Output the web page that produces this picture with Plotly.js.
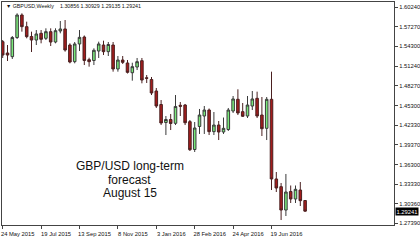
<!DOCTYPE html>
<html>
<head>
<meta charset="utf-8">
<script src="https://cdn.plot.ly/plotly-3.0.1.min.js"></script>
<style>
html,body{margin:0;padding:0;background:#fff;}
#chart{width:420px;height:240px;}
</style>
</head>
<body>
<div id="chart"></div>
<script>
const dates = [
"2015-05-24","2015-05-31","2015-06-07","2015-06-14","2015-06-21","2015-06-28","2015-07-05","2015-07-12",
"2015-07-19","2015-07-26","2015-08-02","2015-08-09","2015-08-16","2015-08-23","2015-08-30","2015-09-06",
"2015-09-13","2015-09-20","2015-09-27","2015-10-04","2015-10-11","2015-10-18","2015-10-25","2015-11-01",
"2015-11-08","2015-11-15","2015-11-22","2015-11-29","2015-12-06","2015-12-13","2015-12-20","2015-12-27",
"2016-01-03","2016-01-10","2016-01-17","2016-01-24","2016-01-31","2016-02-07","2016-02-14","2016-02-21",
"2016-02-28","2016-03-06","2016-03-13","2016-03-20","2016-03-27","2016-04-03","2016-04-10","2016-04-17",
"2016-04-24","2016-05-01","2016-05-08","2016-05-15","2016-05-22","2016-05-29","2016-06-05","2016-06-12",
"2016-06-19","2016-06-26","2016-07-03","2016-07-10","2016-07-17","2016-07-24","2016-07-31","2016-08-07"];

const opens = [
1.5500,1.5328,1.5272,1.5563,1.5905,1.5728,1.5579,1.5525,
1.5627,1.5551,1.5652,1.5495,1.5662,1.5693,1.5449,1.5196,
1.5465,1.5571,1.5226,1.5214,1.5358,1.5449,1.5348,1.5449,
1.5085,1.5221,1.5176,1.5028,1.5115,1.5211,1.4951,1.4925,
1.4750,1.4545,1.4271,1.4317,1.4259,1.4533,1.4537,1.4284,
1.3861,1.4211,1.4370,1.4461,1.4132,1.4233,1.4127,1.4165,
1.4446,1.4624,1.4436,1.4370,1.4522,1.4639,1.4385,1.4183,
1.4624,1.3413,1.3296,1.2941,1.3223,1.3109,1.3245,1.30856];

const highs = [
1.5525,1.5449,1.5586,1.5931,1.5931,1.5804,1.5652,1.5677,
1.5677,1.5703,1.5703,1.5703,1.5814,1.5829,1.5475,1.5495,
1.5677,1.5594,1.5256,1.5399,1.5500,1.5515,1.5495,1.5495,
1.5282,1.5282,1.5221,1.5180,1.5252,1.5252,1.4993,1.4963,
1.4796,1.4613,1.4370,1.4401,1.4689,1.4583,1.4553,1.4309,
1.4279,1.4477,1.4522,1.4484,1.4431,1.4294,1.4347,1.4492,
1.4674,1.4776,1.4568,1.4674,1.4750,1.4740,1.4659,1.4659,
1.5044,1.3519,1.3352,1.3489,1.3314,1.3314,1.3367,1.30929];

const lows = [
1.5252,1.5206,1.5237,1.5541,1.5652,1.5551,1.5343,1.5449,
1.5475,1.5525,1.5434,1.5475,1.5627,1.5348,1.5171,1.5171,
1.5358,1.5145,1.5120,1.5145,1.5252,1.5297,1.5282,1.5044,
1.5044,1.5161,1.5016,1.4907,1.5069,1.4867,1.4872,1.4689,
1.4492,1.4233,1.4081,1.4157,1.4233,1.4370,1.4233,1.3838,
1.3823,1.4097,1.4097,1.4081,1.4081,1.4005,1.4097,1.4142,
1.4416,1.4385,1.4355,1.4340,1.4461,1.4340,1.4066,1.4005,
1.3245,1.3215,1.2789,1.2850,1.3048,1.3048,1.3002,1.29135];

const closes = [
1.5297,1.5297,1.5563,1.5905,1.5728,1.5576,1.5525,1.5617,
1.5536,1.5652,1.5495,1.5667,1.5693,1.5373,1.5191,1.5465,
1.5566,1.5214,1.5196,1.5369,1.5465,1.5348,1.5457,1.5085,
1.5221,1.5186,1.5034,1.5120,1.5196,1.4917,1.4943,1.4720,
1.4522,1.4264,1.4317,1.4256,1.4515,1.4518,1.4268,1.3858,
1.4188,1.4385,1.4461,1.4132,1.4233,1.4127,1.4183,1.4461,
1.4629,1.4416,1.4366,1.4537,1.4629,1.4370,1.4177,1.4624,
1.3413,1.3276,1.2941,1.3215,1.3109,1.3256,1.3083,1.29241];

const dateTicks = ["2015-05-24","2015-07-19","2015-09-13","2015-11-08","2016-01-03","2016-02-28","2016-04-24","2016-06-19"];
const dateLabels = ["24 May 2015","19 Jul 2015","13 Sep 2015","8 Nov 2015","3 Jan 2016","28 Feb 2016","24 Apr 2016","19 Jun 2016"];

const priceTicks = [1.60240,1.57270,1.54300,1.51240,1.48270,1.45300,1.42330,1.39370,1.36300,1.33330,1.30360,1.27390];
const priceLabels = ["1.60240","1.57270","1.54300","1.51240","1.48270","1.45300","1.42330","1.39370","1.36300","1.33330","1.30360","1.27390"];

const symbolLabel = "\u25BC GBPUSD,Weekly";
const ohlcLabel = "1.30856 1.30929 1.29135 1.29241";
const lastPrice = 1.29241;
const lastPriceLabel = "1.29241";
const forecastLines = ["GBP/USD long-term", "forecast", "August 15"];

const FONT = "Liberation Sans, Arial, sans-serif";

const trace = {
  type: "candlestick",
  x: dates, open: opens, high: highs, low: lows, close: closes,
  increasing: {line: {color: "#3a3a3a", width: 1}, fillcolor: "#7ae87a"},
  decreasing: {line: {color: "#4a2020", width: 1}, fillcolor: "#a31c1c"},
  whiskerwidth: 0,
  hoverinfo: "skip"
};

const titleY = [0.2646, 0.2018, 0.1413];
const annotations = [
  {xref: "paper", yref: "paper", x: 0.004, y: 0.982, xanchor: "left", yanchor: "middle",
   text: symbolLabel, showarrow: false, font: {family: FONT, size: 5.3, color: "#111"}},
  {xref: "paper", yref: "paper", x: 0.143, y: 0.982, xanchor: "left", yanchor: "middle",
   text: ohlcLabel, showarrow: false, font: {family: FONT, size: 5.3, color: "#111"}},
  {xref: "paper", yref: "y", x: 1, xshift: 1, y: lastPrice, xanchor: "left", yanchor: "middle",
   text: lastPriceLabel, showarrow: false, bgcolor: "#000", borderpad: 0.5,
   font: {family: FONT, size: 5.8, color: "#fff"}}
];
forecastLines.forEach((t, k) => annotations.push({
  xref: "paper", yref: "paper", x: 0.3265, y: titleY[k], xanchor: "center", yanchor: "middle",
  text: t, showarrow: false, font: {family: FONT, size: 12, color: "#111"}
}));

const layout = {
  width: 420, height: 240,
  margin: {l: 2, r: 26, t: 2, b: 15, pad: 0},
  paper_bgcolor: "#fff", plot_bgcolor: "#fff",
  showlegend: false,
  boxgap: 0.24,
  font: {family: FONT, size: 5.8, color: "#111"},
  xaxis: {
    type: "date",
    range: ["2015-05-22 23:30", "2016-12-14 15:21"],
    rangeslider: {visible: false},
    tickvals: dateTicks, ticktext: dateLabels,
    ticks: "outside", ticklen: 3, tickcolor: "#444", tickwidth: 1,
    ticklabelshift: 15,
    tickfont: {family: FONT, size: 5.8, color: "#111"},
    showgrid: false, zeroline: false,
    showline: true, linecolor: "#444", linewidth: 1, mirror: true,
    fixedrange: true
  },
  yaxis: {
    side: "right",
    range: [1.27134, 1.61030],
    tickvals: priceTicks, ticktext: priceLabels,
    ticks: "outside", ticklen: 3, tickcolor: "#444", tickwidth: 1,
    tickfont: {family: FONT, size: 5.8, color: "#111"},
    showgrid: false, zeroline: false,
    showline: true, linecolor: "#444", linewidth: 1, mirror: true,
    fixedrange: true
  },
  annotations: annotations
};

Plotly.newPlot("chart", [trace], layout, {staticPlot: true, displayModeBar: false});
</script>
</body>
</html>
